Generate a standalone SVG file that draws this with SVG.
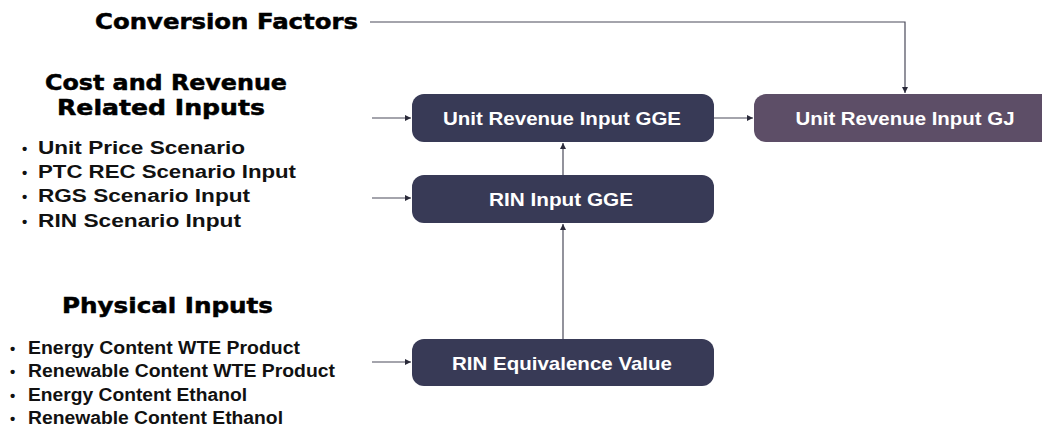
<svg xmlns="http://www.w3.org/2000/svg" width="1042" height="429" viewBox="0 0 1042 429">
  <style>
    .head { font-family: "DejaVu Sans", "Liberation Sans", sans-serif; font-weight: bold; font-size: 21px; fill: #000; stroke: #000; stroke-width: 0.5; }
    .item { font-family: "Liberation Sans", Arial, sans-serif; font-weight: bold; font-size: 18px; fill: #111; }
    .dot { font-size: 15px; }
    .box { fill: #383a56; }
    .box-alt { fill: #5d4e67; }
    .lbl { font-family: "Liberation Sans", Arial, sans-serif; font-weight: bold; font-size: 19px; fill: #fff; text-anchor: middle; }
    .wire { fill: none; stroke: #4a4a5a; stroke-width: 1.2; }
  </style>
  <defs>
    <marker id="arrow" viewBox="0 0 10 10" refX="10" refY="5" markerWidth="6" markerHeight="6" orient="auto" markerUnits="userSpaceOnUse">
      <path d="M0,0 L10,5 L0,10 z" fill="#2a2a3a"/>
    </marker>
  </defs>
  <rect width="1042" height="429" fill="#fff"/>

  <!-- section headings and input lists -->
  <g id="conversion-factors">
    <text class="head" x="95" y="29" textLength="263" lengthAdjust="spacingAndGlyphs">Conversion Factors</text>
  </g>
  <g id="cost-revenue-inputs">
    <text class="head" x="45" y="90" textLength="242" lengthAdjust="spacingAndGlyphs">Cost and Revenue</text>
    <text class="head" x="57" y="115" textLength="208" lengthAdjust="spacingAndGlyphs">Related Inputs</text>
    <g class="item">
      <text class="dot" x="22" y="154">•</text><text x="38" y="154" textLength="207" lengthAdjust="spacingAndGlyphs">Unit Price Scenario</text>
      <text class="dot" x="22" y="178">•</text><text x="38" y="178" textLength="258" lengthAdjust="spacingAndGlyphs">PTC REC Scenario Input</text>
      <text class="dot" x="22" y="202">•</text><text x="38" y="202" textLength="212" lengthAdjust="spacingAndGlyphs">RGS Scenario Input</text>
      <text class="dot" x="22" y="227">•</text><text x="38" y="227" textLength="203" lengthAdjust="spacingAndGlyphs">RIN Scenario Input</text>
    </g>
  </g>
  <g id="physical-inputs">
    <text class="head" x="62" y="313" textLength="211" lengthAdjust="spacingAndGlyphs">Physical Inputs</text>
    <g class="item">
      <text class="dot" x="10" y="354">•</text><text x="28" y="354" textLength="272" lengthAdjust="spacingAndGlyphs">Energy Content WTE Product</text>
      <text class="dot" x="10" y="377">•</text><text x="28" y="377" textLength="307" lengthAdjust="spacingAndGlyphs">Renewable Content WTE Product</text>
      <text class="dot" x="10" y="401">•</text><text x="28" y="401" textLength="219" lengthAdjust="spacingAndGlyphs">Energy Content Ethanol</text>
      <text class="dot" x="10" y="424">•</text><text x="28" y="424" textLength="255" lengthAdjust="spacingAndGlyphs">Renewable Content Ethanol</text>
    </g>
  </g>

  <!-- process nodes -->
  <g id="unit-revenue-gge">
    <rect class="box" x="412" y="94" width="302" height="48" rx="12"/>
    <text class="lbl" x="562" y="125" textLength="238" lengthAdjust="spacingAndGlyphs">Unit Revenue Input GGE</text>
  </g>
  <g id="rin-input-gge">
    <rect class="box" x="412" y="175" width="302" height="48" rx="12"/>
    <text class="lbl" x="561" y="206" textLength="144" lengthAdjust="spacingAndGlyphs">RIN Input GGE</text>
  </g>
  <g id="rin-equivalence">
    <rect class="box" x="412" y="339" width="302" height="47" rx="12"/>
    <text class="lbl" x="562" y="370" textLength="220" lengthAdjust="spacingAndGlyphs">RIN Equivalence Value</text>
  </g>
  <g id="unit-revenue-gj">
    <rect class="box-alt" x="754" y="94" width="302" height="48" rx="12"/>
    <text class="lbl" x="905" y="125" textLength="219" lengthAdjust="spacingAndGlyphs">Unit Revenue Input GJ</text>
  </g>

  <!-- connectors -->
  <g id="connectors">
    <path class="wire" d="M370,22 H905 V93" marker-end="url(#arrow)"/>
    <path class="wire" d="M372,118 H411" marker-end="url(#arrow)"/>
    <path class="wire" d="M372,198 H411" marker-end="url(#arrow)"/>
    <path class="wire" d="M372,362 H411" marker-end="url(#arrow)"/>
    <path class="wire" d="M714,118 H753" marker-end="url(#arrow)"/>
    <path class="wire" d="M563,175 V143" marker-end="url(#arrow)"/>
    <path class="wire" d="M563,339 V224" marker-end="url(#arrow)"/>
  </g>
</svg>
